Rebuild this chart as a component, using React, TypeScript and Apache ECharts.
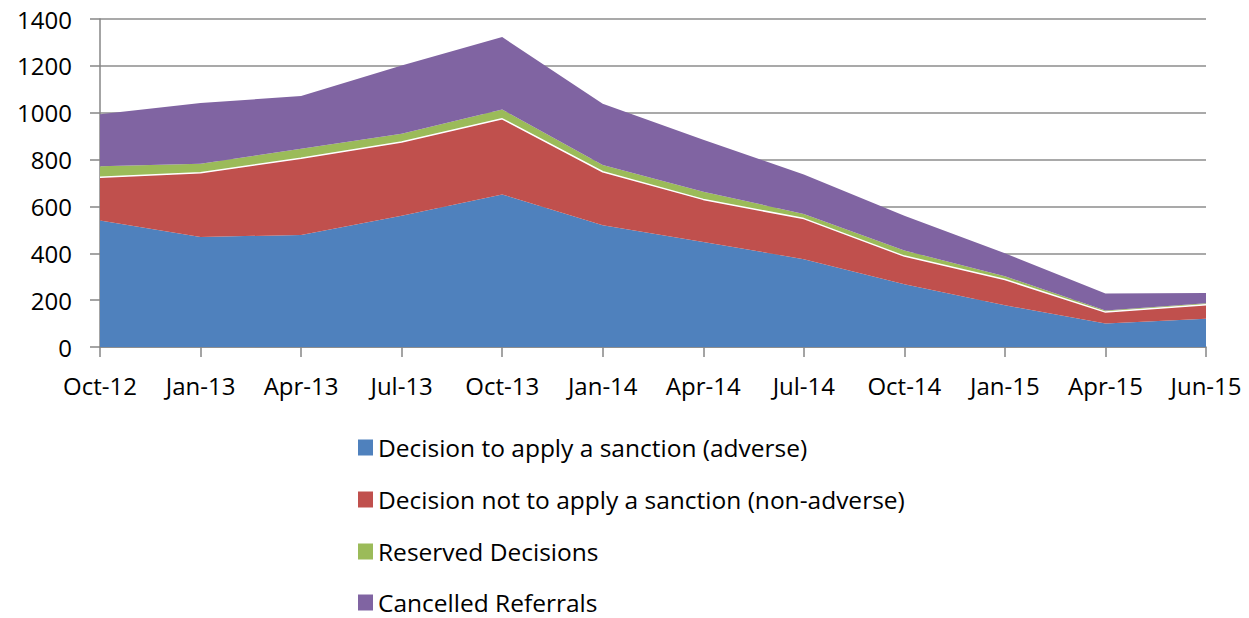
import React, { useEffect, useRef } from "react";
import * as echarts from "echarts";

const categories = ["Oct-12", "Jan-13", "Apr-13", "Jul-13", "Oct-13", "Jan-14", "Apr-14", "Jul-14", "Oct-14", "Jan-15", "Apr-15", "Jun-15"];
const adverse = [540, 470, 478, 560, 651, 520, 448, 375, 268, 178, 100, 121];
const nonAdverse = [185, 274, 328, 315, 323, 228, 182, 173, 120, 110, 49, 59];
const reserved = [46, 38, 40, 35, 40, 29, 33, 20, 24, 14, 7, 7];
const cancelled = [222, 259, 225, 292, 309, 261, 222, 168, 148, 98, 72, 43];
const seriesNames = [
  "Decision to apply a sanction (adverse)",
  "Decision not to apply a sanction (non-adverse)",
  "Reserved Decisions",
  "Cancelled Referrals",
];
const yTicks = { min: 0, max: 1400, interval: 200 };

const FONT = "'Open Sans', 'Noto Sans', sans-serif";

export default function App() {
  const ref = useRef<HTMLDivElement>(null);
  useEffect(() => {
    if (!ref.current) return;
    const chart = echarts.init(ref.current, null, { renderer: "svg" });
    const mk = (name: string, data: number[], color: string, white = false) => ({
      name,
      type: "line",
      stack: "total",
      data,
      symbol: "none",
      showSymbol: false,
      z: white ? 3 : 2,
      lineStyle: white ? { color: "#ffffff", width: 1.5 } : { width: 0 },
      areaStyle: { color, opacity: 1 },
      itemStyle: { color },
    });
    const legendTops = [435, 487, 539, 590];
    chart.setOption({
      animation: false,
      textStyle: { fontFamily: FONT },
      grid: { left: 100, right: 43, top: 19, bottom: 271, containLabel: false },
      legend: seriesNames.map((n, i) => ({
        orient: "vertical",
        left: 358,
        top: legendTops[i],
        padding: 0,
        itemWidth: 15,
        itemHeight: 16,
        icon: "rect",
        textStyle: { fontSize: 24.5, lineHeight: 24, color: "#000", fontFamily: FONT },
        data: [n],
      })),
      xAxis: {
        type: "category",
        data: categories,
        boundaryGap: false,
        axisLine: { lineStyle: { color: "#868686", width: 1.5 } },
        axisTick: { show: true, length: 10, lineStyle: { color: "#868686", width: 1.5 } },
        axisLabel: { fontSize: 24, color: "#000", margin: 26, fontFamily: FONT },
      },
      yAxis: {
        type: "value",
        ...yTicks,
        axisLine: { show: true, lineStyle: { color: "#868686", width: 1.5 } },
        axisTick: { show: true, length: 10, lineStyle: { color: "#868686", width: 1.5 } },
        axisLabel: { fontSize: 24, color: "#000", margin: 28, fontFamily: FONT, formatter: (v: number) => String(v) },
        splitLine: { lineStyle: { color: "#8c8c8c", width: 1.5 } },
      },
      series: [
        mk(seriesNames[0], adverse, "#4F81BD"),
        mk(seriesNames[1], nonAdverse, "#C0504D", true),
        mk(seriesNames[2], reserved, "#9BBB59"),
        mk(seriesNames[3], cancelled, "#8064A2"),
      ],
    });
    return () => chart.dispose();
  }, []);
  return <div ref={ref} style={{ position: "absolute", left: 0, top: 0, width: 1249, height: 618 }} />;
}
